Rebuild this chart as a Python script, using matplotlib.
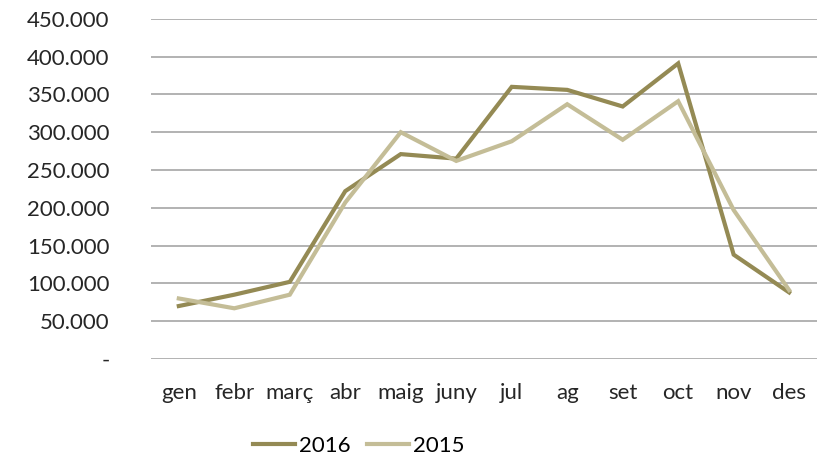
import matplotlib.pyplot as plt
from matplotlib.ticker import FuncFormatter

months = ['gen', 'febr', 'març', 'abr', 'maig', 'juny', 'jul', 'ag', 'set', 'oct', 'nov', 'des']
values_2016 = [70000, 85000, 102000, 222000, 271000, 265000, 360000, 356000, 334000, 391000, 138000, 88000]
values_2015 = [80000, 67000, 85000, 207000, 300000, 262000, 288000, 337000, 290000, 341000, 197000, 91000]

plt.rcParams['font.family'] = ['Lato', 'DejaVu Sans']

fig = plt.figure(figsize=(8.21, 4.59), dpi=100)
ax = fig.add_axes([0.184, 0.218, 0.811, 0.741])

x = range(len(months))
ax.plot(x, values_2016, color='#948A54', linewidth=3, label='2016', solid_joinstyle='miter')
ax.plot(x, values_2015, color='#C4BD97', linewidth=3, label='2015', solid_joinstyle='miter')

ax.set_xlim(-0.5, len(months) - 0.5)
ax.set_ylim(0, 450000)
ax.set_yticks(range(0, 450001, 50000))
ax.yaxis.set_major_formatter(FuncFormatter(lambda v, p: '-' if v == 0 else f'{int(v):,}'.replace(',', '.')))
ax.set_xticks(list(x))
ax.set_xticklabels(months)

ax.grid(axis='y', color='#A6A6A6', linewidth=1.2)
ax.set_axisbelow(True)
for s in ax.spines.values():
    s.set_visible(False)
ax.tick_params(axis='both', length=0, labelsize=16, colors='#262626')
ax.tick_params(axis='y', pad=30)
ax.tick_params(axis='x', pad=17)

fig.legend(loc='center', bbox_to_anchor=(0.437, 0.028), ncol=2, frameon=False,
           fontsize=16, handlelength=1.9, columnspacing=0.7, handletextpad=0.2)

plt.savefig('out.png', dpi=100)
